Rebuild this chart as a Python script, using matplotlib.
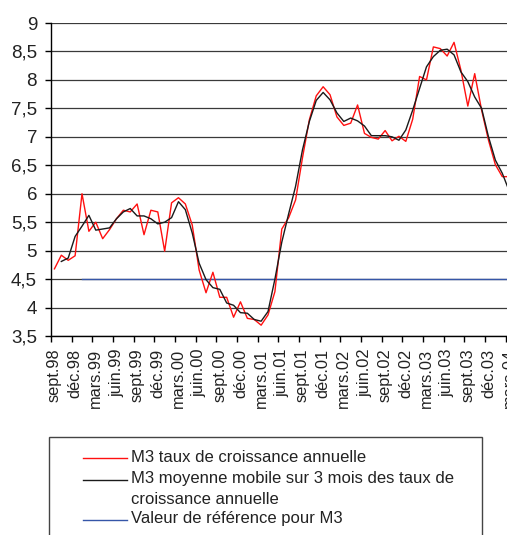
import numpy as np
import matplotlib
matplotlib.use("Agg")
import matplotlib.pyplot as plt
from matplotlib.lines import Line2D
from matplotlib.patches import Rectangle

plt.rcParams['font.family'] = ['Liberation Sans', 'DejaVu Sans']

# M3 taux de croissance annuelle, sept.98 -> mars.04 (mensuel)
taux_annuel = [4.68, 4.92, 4.83, 4.91, 6.00, 5.34, 5.50, 5.21, 5.37, 5.56,
               5.71, 5.68, 5.82, 5.28, 5.71, 5.68, 4.99, 5.84, 5.93, 5.82,
               5.45, 4.66, 4.26, 4.62, 4.18, 4.18, 3.83, 4.10, 3.81, 3.79,
               3.69, 3.87, 4.28, 5.38, 5.58, 5.89, 6.63, 7.30, 7.72, 7.88,
               7.74, 7.35, 7.20, 7.24, 7.56, 7.06, 6.99, 6.96, 7.11, 6.93,
               7.01, 6.92, 7.31, 8.06, 8.00, 8.58, 8.55, 8.42, 8.66, 8.17,
               7.54, 8.11, 7.47, 6.94, 6.51, 6.30, 6.30]

# moyenne mobile sur 3 mois
moyenne_3m = [np.nan, 4.81, 4.87, 5.25, 5.43, 5.62, 5.36, 5.38, 5.40, 5.56,
              5.68, 5.74, 5.61, 5.61, 5.56, 5.47, 5.50, 5.58, 5.86, 5.72,
              5.31, 4.78, 4.49, 4.35, 4.32, 4.08, 4.04, 3.91, 3.90, 3.79,
              3.76, 3.93, 4.50, 5.15, 5.65, 6.13, 6.77, 7.27, 7.64, 7.78,
              7.65, 7.42, 7.27, 7.33, 7.28, 7.19, 7.02, 7.02, 7.02, 7.00,
              6.94, 7.12, 7.47, 7.85, 8.23, 8.41, 8.52, 8.54, 8.44, 8.14,
              7.97, 7.70, 7.50, 7.00, 6.59, 6.36, 6.05]

# valeur de reference (a partir de janv.99)
valeur_ref = [np.nan] * 4 + [4.5] * 63

mois_labels = ['sept.98', 'déc.98', 'mars.99', 'juin.99', 'sept.99', 'déc.99',
               'mars.00', 'juin.00', 'sept.00', 'déc.00', 'mars.01', 'juin.01',
               'sept.01', 'déc.01', 'mars.02', 'juin.02', 'sept.02', 'déc.02',
               'mars.03', 'juin.03', 'sept.03', 'déc.03', 'mars.04']

y_ticks = [3.5, 4, 4.5, 5, 5.5, 6, 6.5, 7, 7.5, 8, 8.5, 9]

legend_labels = ['M3 taux de croissance annuelle',
                 'M3 moyenne mobile sur 3 mois des taux de\ncroissance annuelle',
                 'Valeur de référence pour M3']

W, H = 507, 535
fig = plt.figure(figsize=(W / 100, H / 100), dpi=100)
ax = fig.add_axes([51 / W, 1 - 336 / H, 461.6 / W, 313 / H])

x = np.arange(len(taux_annuel))
c_red, c_blk, c_blue = '#ff1010', '#1a1a1a', '#3556a8'
ax.plot(x, valeur_ref, color=c_blue, lw=1.0)
ax.plot(x, taux_annuel, color=c_red, lw=1.0)
ax.plot(x, moyenne_3m, color=c_blk, lw=1.0)

ax.set_xlim(-0.5, len(taux_annuel) - 0.5)
ax.set_ylim(3.5, 9)
ax.set_yticks(y_ticks)
ax.set_yticklabels([('%g' % v).replace('.', ',') for v in y_ticks], fontsize=13.5, color='#222222')
ax.grid(axis='y', color='#3a3a3a', lw=0.9)
ax.set_axisbelow(True)

ax.set_xticks(np.arange(-0.5, len(taux_annuel), 3))
ax.set_xticklabels([])
ax.set_xticks(np.arange(0, len(taux_annuel), 3), minor=True)
ax.set_xticklabels(mois_labels, minor=True, rotation=90, fontsize=11.8, color='#222222')
ax.tick_params(axis='x', which='major', length=4, width=1, direction='out')
ax.tick_params(axis='x', which='minor', length=0, pad=9)
ax.tick_params(axis='y', length=4, width=1, pad=6)

for s in ['top', 'right']:
    ax.spines[s].set_visible(False)
for s in ['left', 'bottom']:
    ax.spines[s].set_color('black')
    ax.spines[s].set_linewidth(1.0)

# legende (boite coupee en bas comme dans l'original)
fig.add_artist(Rectangle((49 / W, -0.05), (482 - 49) / W, (1 - 437 / H) + 0.05,
                         transform=fig.transFigure, fill=False, edgecolor='#444444', lw=1))
ys = [458, 480, 520]
for yy, col, lab in zip(ys, [c_red, c_blk, c_blue], legend_labels):
    fig.add_artist(Line2D([83 / W, 127 / W], [1 - yy / H, 1 - yy / H],
                          transform=fig.transFigure, color=col, lw=1))
    fig.text(131 / W, 1 - (yy - 8.5) / H, lab, fontsize=12, color='#222222',
             va='top', ha='left', linespacing=1.45)

fig.savefig('out.png', dpi=100)
